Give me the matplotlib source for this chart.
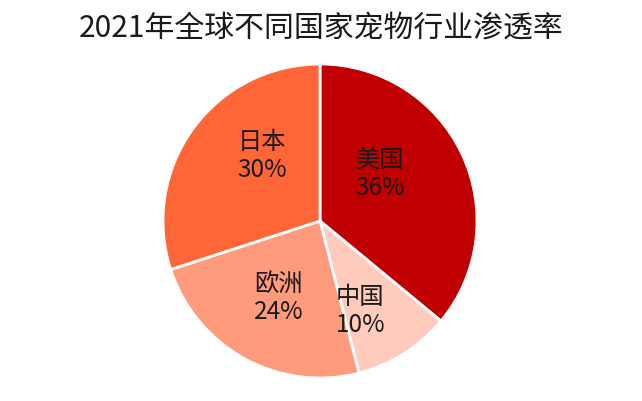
import matplotlib
matplotlib.use("Agg")
import matplotlib.pyplot as plt
import numpy as np

plt.rcParams['font.family'] = ['Noto Sans CJK SC', 'DejaVu Sans']

regions = ['美国', '中国', '欧洲', '日本']
rates = [36, 10, 24, 30]
colors = ['#C00000', '#FFCBBD', '#FF9B7D', '#FF6637']

fig = plt.figure(figsize=(6.42, 4.02), dpi=100)
ax = fig.add_axes([0.0, 0.0, 1.0, 1.0])

wedges, texts = ax.pie(
    rates, startangle=90, counterclock=False, colors=colors,
    radius=1.0, wedgeprops=dict(edgecolor='white', linewidth=2),
)

# label placement (radius fraction, angle shift from wedge middle)
label_r = [0.49, 0.62, 0.55, 0.56]
label_shift = [13.5, -8, 0, -13]
total = sum(rates)
theta = 90.0
for name, v, lr, sh in zip(regions, rates, label_r, label_shift):
    mid = theta - v / total * 360 / 2 + sh
    theta -= v / total * 360
    x = lr * np.cos(np.radians(mid))
    y = lr * np.sin(np.radians(mid))
    ax.text(x, y, f"{name}\n{v}%", ha='center', va='center', fontsize=17.5,
            color='#1a1a1a', linespacing=1.1)

R = 157.0
ax.set_xlim(-320 / R, 322 / R)
ax.set_ylim(-180 / R, 222 / R)
ax.set_aspect('equal')
ax.axis('off')

fig.text(0.5, 0.930, '2021年全球不同国家宠物行业渗透率', ha='center', va='center',
         fontsize=21.5, color='#1a1a1a')

fig.savefig('out.png', dpi=100)
